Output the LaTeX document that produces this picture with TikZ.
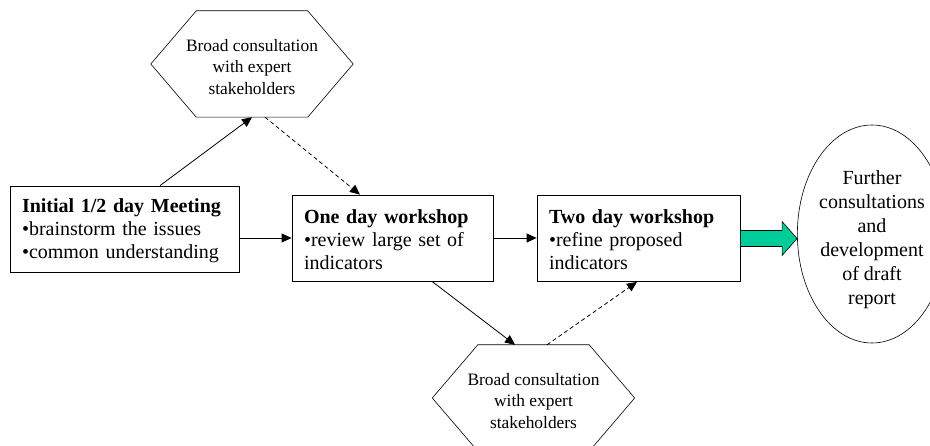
\documentclass[tikz,border=0pt]{standalone}
\usepackage{fontspec}
\setmainfont{Liberation Serif}
\usetikzlibrary{shapes,arrows.meta}
\definecolor{colArrow}{RGB}{0,204,153}

\begin{document}
\begin{tikzpicture}[x=1pt, y=-1pt,
    every node/.style={font=\fontsize{20}{23}\selectfont},
    stage/.style={draw, rectangle, line width=0.8pt, align=left, inner xsep=12pt, inner ysep=0pt, minimum height=86pt},
    consult/.style={minimum width=202pt, minimum height=106pt, inner sep=0pt, align=center, font=\fontsize{17.4}{21.5}\selectfont},
    further/.style={draw, ellipse, line width=0.6pt, minimum width=142pt, minimum height=218pt, inner sep=0pt, align=center, font=\fontsize{20}{24}\selectfont},
    flow/.style={-{Triangle[length=10pt,width=9pt]}, line width=0.8pt},
    feedback/.style={flow, dash pattern=on 4pt off 3pt}
]
    \useasboundingbox (0,0) rectangle (930,446);

    % the three meetings
    \node[stage, text width=205pt] (init) at (124.5,229) {\rule{0pt}{17pt}\textbf{Initial 1/2 day Meeting}\\ •brainstorm the issues\\ •common understanding};
    \node[stage, text width=177pt] (one) at (392.5,238) {\rule{0pt}{17pt}\textbf{One day workshop}\\ •review large set of\\ indicators};
    \node[stage, text width=179pt] (two) at (638.5,238.5) {\rule{0pt}{17pt}\textbf{Two day workshop}\\ •refine proposed\\ indicators};

    % consultations (hexagons drawn round the nodes)
    \node[consult] (hexTop) at (252,64) {\rule{0pt}{18pt}Broad consultation\\ with expert\\ stakeholders};
    \node[consult] (hexBot) at (533.5,398) {\rule{0pt}{18pt}Broad consultation\\ with expert\\ stakeholders};
    \foreach \h in {hexTop,hexBot}
        \draw[line width=0.6pt] (\h.west) -- ([xshift=45.5]\h.north west) -- ([xshift=-45.5]\h.north east)
            -- (\h.east) -- ([xshift=-45.5]\h.south east) -- ([xshift=45.5]\h.south west) -- cycle;

    % final step
    \node[further] (report) at (872,234) {\rule{0pt}{26pt}Further\\ consultations\\ and\\ development\\ of draft\\ report};

    % main flow
    \draw[flow] (init.east |- one.west) -- (one.west);
    \draw[flow] (one.east) -- (two.west |- one.east);

    % out to the consultations and back
    \draw[flow] ([xshift=35.5]init.north) -- (hexTop.south);
    \draw[feedback] ([xshift=13]hexTop.south) -- ([xshift=-32.5]one.north);
    \draw[flow] ([xshift=39.5]one.south) -- ([xshift=-18.5]hexBot.north);
    \draw[feedback] ([xshift=13.5]hexBot.north) -- ([xshift=-1.5]two.south);

    % block arrow to the report
    \coordinate (tip) at (report.west |- two.east);
    \draw[line width=0.6pt, fill=colArrow] ([yshift=8]two.east) -- ([xshift=-15,yshift=8]tip) -- ([xshift=-15,yshift=17]tip)
        -- (tip) -- ([xshift=-15,yshift=-17]tip) -- ([xshift=-15,yshift=-8]tip) -- ([yshift=-8]two.east) -- cycle;
\end{tikzpicture}
\end{document}
